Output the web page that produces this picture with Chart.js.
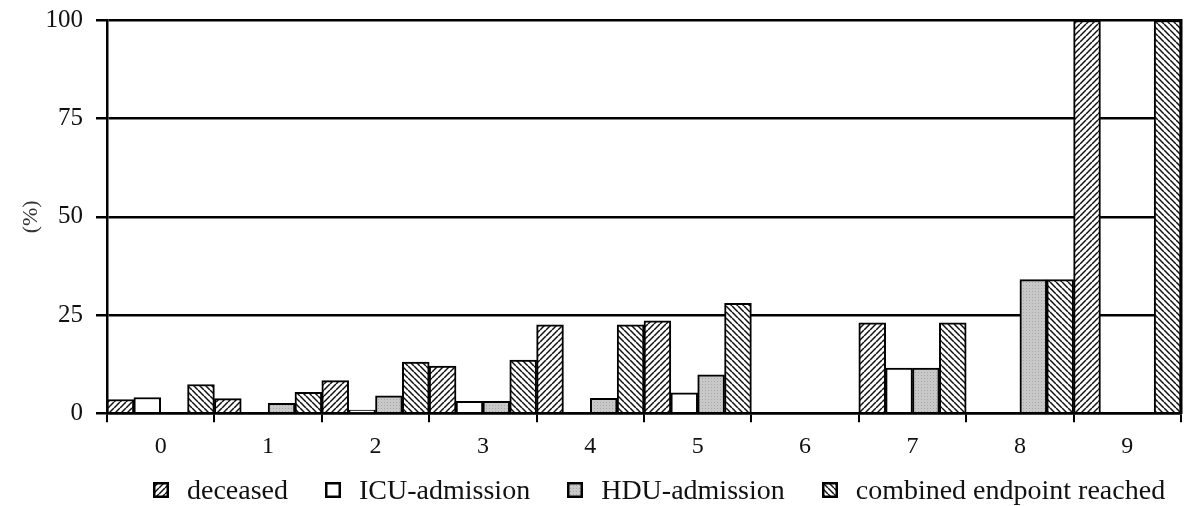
<!DOCTYPE html>
<html>
<head>
<meta charset="utf-8">
<script src="https://cdn.jsdelivr.net/npm/chart.js@4"></script>
<style>
  body { margin: 0; background: #fff; }
  #wrap { position: relative; width: 1194px; height: 506px; }
  #legend {
    position: absolute; left: 153px; top: 474px; height: 32px;
    display: flex; align-items: center;
    font-family: "Liberation Serif", "Times New Roman", serif;
    font-size: 28px; color: #111; white-space: nowrap;
  }
  #legend .item { display: flex; align-items: center; margin-right: 37px; }
  #legend canvas { display: block; margin-right: 18px; }
</style>
</head>
<body>
<div id="wrap">
  <canvas id="myChart" width="1194" height="506"></canvas>
  <div id="legend"></div>
</div>
<script>
// values (percent)
const categories = ['0', '1', '2', '3', '4', '5', '6', '7', '8', '9'];
const deceased = [3.5, 3.7, 8.3, 12, 22.5, 23.5, 0, 23, 0, 100];
const icuAdmission = [4, 0, 0.8, 3, 0, 5.2, 0, 11.5, 0, 0];
const hduAdmission = [0, 2.5, 4.4, 3, 3.8, 9.8, 0, 11.5, 34, 0];
const combinedEndpoint = [7.3, 5.3, 13, 13.5, 22.5, 28, 0, 23, 34, 100];
const yTicks = [0, 25, 50, 75, 100];

const serif = '"Liberation Serif", "Times New Roman", serif';

// hatch fill, dir 1 = "//", dir -1 = "\\"
function hatch(g0, dir) {
    const s = 6;
    const c = document.createElement('canvas');
    c.width = s; c.height = s;
    const g = c.getContext('2d');
    g.fillStyle = '#fff';
    g.fillRect(0, 0, s, s);
    g.strokeStyle = '#111';
    g.lineWidth = 1.5;
    for (let k = -1; k <= 1; k++) {
        g.beginPath();
        if (dir > 0) {
            g.moveTo(k * s, s);
            g.lineTo(k * s + s, 0);
        } else {
            g.moveTo(k * s, 0);
            g.lineTo(k * s + s, s);
        }
        g.stroke();
    }
    return g0.createPattern(c, 'repeat');
}

// dotted gray fill for HDU
function dots(g0) {
    const c = document.createElement('canvas');
    c.width = 3; c.height = 3;
    const g = c.getContext('2d');
    g.fillStyle = '#c8c8c8';
    g.fillRect(0, 0, 3, 3);
    g.fillStyle = '#a8a8a8';
    g.fillRect(0, 0, 1, 1);
    return g0.createPattern(c, 'repeat');
}

const ctx = document.getElementById('myChart').getContext('2d');

const series = [
    { label: 'deceased', data: deceased, fill: g => hatch(g, 1) },
    { label: 'ICU-admission', data: icuAdmission, fill: g => '#fff' },
    { label: 'HDU-admission', data: hduAdmission, fill: g => dots(g) },
    { label: 'combined endpoint reached', data: combinedEndpoint, fill: g => hatch(g, -1) }
];

const myChart = new Chart(ctx, {
    type: 'bar',
    data: {
        labels: categories,
        datasets: series.map(s => ({
            label: s.label,
            data: s.data,
            backgroundColor: s.fill(ctx),
            borderColor: '#000',
            borderWidth: 2,
            borderSkipped: 'bottom',
            barPercentage: 1,
            categoryPercentage: 1,
            yAxisID: 'y'
        }))
    },
    options: {
        responsive: false,
        animation: false,
        layout: { padding: { top: 0, right: 5, bottom: 35, left: 0 } },
        scales: {
            x: {
                offset: true,
                grid: {
                    offset: true,
                    drawOnChartArea: false,
                    color: '#000',
                    lineWidth: 2,
                    tickLength: 9
                },
                border: { color: '#000', width: 2.5 },
                ticks: {
                    color: '#111',
                    font: { family: serif, size: 24 },
                    padding: 10
                }
            },
            y: {
                min: 0,
                max: 100,
                afterBuildTicks: function (scale) {
                    scale.ticks = yTicks.map(v => ({ value: v }));
                },
                afterFit: function (scale) { scale.width = 107; },
                grid: {
                    color: '#000',
                    lineWidth: 2.5,
                    tickLength: 11
                },
                border: { color: '#000', width: 2.5 },
                ticks: {
                    color: '#111',
                    font: { family: serif, size: 25, lineHeight: 0.6 },
                    padding: 13
                },
                title: {
                    display: true,
                    text: '(%)',
                    color: '#333',
                    font: { family: serif, size: 22 },
                    padding: { top: 18, bottom: 0 }
                }
            },
            yRight: {
                position: 'right',
                min: 0,
                max: 100,
                ticks: { display: false },
                grid: { display: false },
                border: { display: true, color: '#000', width: 2.5 }
            }
        },
        plugins: {
            legend: { display: false },
            tooltip: { enabled: false }
        }
    }
});

// legend below the plot, swatches use the same fills as the bars
const legend = document.getElementById('legend');
series.forEach(s => {
    const item = document.createElement('div');
    item.className = 'item';
    const sw = document.createElement('canvas');
    sw.width = 16; sw.height = 16;
    const g = sw.getContext('2d');
    g.fillStyle = s.fill(g);
    g.fillRect(0, 0, 16, 16);
    g.strokeStyle = '#000';
    g.lineWidth = 2.5;
    g.strokeRect(1.25, 1.25, 13.5, 13.5);
    const txt = document.createElement('span');
    txt.textContent = s.label;
    item.appendChild(sw);
    item.appendChild(txt);
    legend.appendChild(item);
});
</script>
</body>
</html>
